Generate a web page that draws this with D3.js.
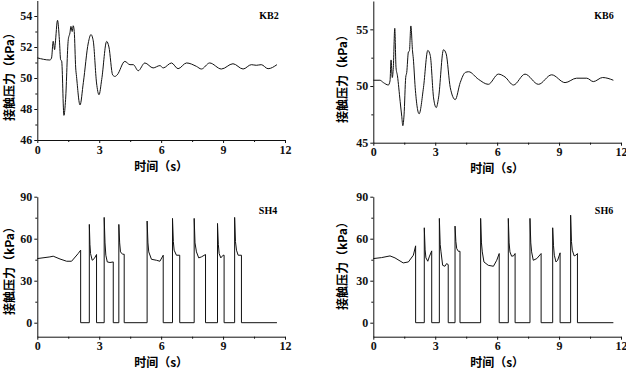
<!DOCTYPE html>
<html>
<head>
<meta charset="utf-8">
<script src="https://cdn.jsdelivr.net/npm/d3@7"></script>
<style>
  body { margin: 0; background: #fff; }
  svg { display: block; }
</style>
</head>
<body>
<div id="chart"></div>
<script>
// Chart data (time in s, contact pressure in kPa)
const kb2Time = [0, 0.61, 0.69, 0.77, 0.84, 0.87, 0.98, 1.07, 1.13, 1.18, 1.29, 1.37, 1.50, 1.58, 1.63, 1.69, 1.74, 1.79, 1.86, 1.90, 2.07, 2.23, 2.47, 2.60, 2.71, 2.87, 2.99, 3.12, 3.36, 3.47, 3.65, 3.76, 3.87, 4.24, 4.49, 4.65, 4.89, 5.21, 5.61, 5.94, 6.10, 6.50, 6.82, 7.23, 7.71, 7.95, 8.35, 8.92, 9.48, 9.97, 10.37, 10.61, 10.85, 11.18, 11.61];
const kb2Pressure = [51.3, 51.16, 51.29, 52.37, 51.83, 52.2, 53.72, 52.47, 51.18, 51.1, 47.59, 48.6, 52.47, 52.9, 53.33, 53.0, 53.37, 53.0, 50.65, 50.1, 48.26, 49.7, 52.26, 52.8, 52.4, 49.68, 48.92, 49.9, 52.36, 52.0, 50.2, 50.1, 50.2, 51.07, 50.86, 50.86, 50.47, 50.97, 50.65, 50.8, 50.65, 50.97, 50.6, 50.97, 50.75, 50.58, 50.97, 50.58, 50.92, 50.58, 50.86, 50.82, 50.86, 50.6, 50.86];

const kb6Time = [0, 0.32, 0.49, 0.73, 0.81, 0.86, 0.92, 0.97, 1.04, 1.10, 1.17, 1.30, 1.38, 1.43, 1.49, 1.57, 1.62, 1.70, 1.75, 1.82, 1.90, 1.94, 2.03, 2.22, 2.43, 2.64, 2.76, 2.92, 3.05, 3.16, 3.40, 3.53, 3.73, 3.97, 4.21, 4.46, 4.62, 5.09, 5.57, 6.06, 6.38, 6.79, 7.35, 8.0, 8.64, 9.29, 9.85, 10.34, 10.66, 11.11, 11.63];
const kb6Pressure = [50.51, 50.51, 50.3, 50.09, 50.45, 52.3, 50.75, 51.65, 55.09, 51.65, 50.9, 48.65, 47.3, 46.5, 47.45, 50.75, 51.2, 53.0, 53.1, 55.3, 53.1, 52.4, 49.85, 47.55, 49.85, 53.14, 52.7, 48.95, 48.1, 48.95, 53.2, 52.84, 49.85, 48.8, 50.3, 51.2, 51.26, 50.6, 50.15, 51.05, 50.8, 50.09, 51.05, 50.15, 50.99, 50.3, 50.69, 50.69, 50.39, 50.75, 50.51];

const sh4Time = [0, 0.61, 0.77, 1.1, 1.42, 1.66, 1.98, 2.10, 2.10, 2.52, 2.52, 2.55, 2.58, 2.66, 2.76, 2.87, 2.87, 3.24, 3.24, 3.28, 3.32, 3.39, 3.52, 3.68, 3.68, 3.95, 3.95, 3.99, 4.03, 4.13, 4.21, 4.21, 5.32, 5.32, 5.36, 5.40, 5.53, 5.77, 5.94, 6.10, 6.10, 6.55, 6.55, 6.59, 6.63, 6.74, 6.90, 6.90, 7.60, 7.60, 7.64, 7.71, 7.82, 7.95, 8.15, 8.15, 8.73, 8.73, 8.77, 8.81, 8.89, 9.00, 9.05, 9.05, 9.56, 9.56, 9.60, 9.65, 9.73, 9.89, 9.89, 11.61];
const sh4Pressure = [45.8, 47.0, 47.5, 45.5, 43.9, 43.9, 49.4, 51.8, 0, 0, 70.2, 56, 49.4, 44.6, 45.8, 48.7, 0, 0, 75.2, 57, 48.2, 43.4, 43.0, 43.4, 0, 0, 70.2, 57, 50.6, 48.9, 48.9, 0, 0, 72.6, 57, 50.6, 45.3, 44.6, 43.9, 48.2, 0, 0, 74.5, 58, 51.8, 48.2, 48.2, 0, 0, 74.5, 57, 50.6, 46.3, 47.0, 48.7, 0, 0, 70.9, 56, 49.4, 46.3, 48.2, 48.2, 0, 0, 75.2, 58, 51.8, 48.2, 48.2, 0, 0];

const sh6Time = [0, 0.4, 0.81, 1.05, 1.45, 1.70, 1.94, 2.05, 2.05, 2.47, 2.47, 2.51, 2.55, 2.64, 2.71, 2.83, 2.83, 3.20, 3.20, 3.24, 3.28, 3.36, 3.47, 3.55, 3.63, 3.63, 3.96, 3.96, 4.00, 4.04, 4.12, 4.20, 4.20, 5.20, 5.20, 5.24, 5.28, 5.36, 5.57, 5.82, 5.98, 6.10, 6.10, 6.54, 6.54, 6.58, 6.62, 6.70, 6.79, 6.87, 6.87, 7.59, 7.59, 7.63, 7.67, 7.75, 7.92, 8.13, 8.13, 8.69, 8.69, 8.73, 8.77, 8.85, 8.93, 9.05, 9.05, 9.56, 9.56, 9.60, 9.64, 9.73, 9.81, 9.89, 9.89, 11.63];
const sh6Pressure = [45.8, 46.5, 47.7, 46.3, 42.7, 43.4, 48.2, 54.9, 0, 0, 67.8, 52, 46.3, 43.9, 47, 51.3, 0, 0, 74.5, 56, 50.6, 41, 40.3, 42.2, 41.5, 0, 0, 69, 58, 53, 51, 51, 0, 0, 74.5, 57, 50.6, 43.4, 41, 40.3, 44.6, 49.4, 0, 0, 74.5, 57, 50.6, 47.5, 47.7, 49.4, 0, 0, 74.5, 57, 50.6, 44.6, 45.8, 49.4, 0, 0, 67.8, 55, 48.2, 43.4, 44.6, 49.9, 0, 0, 76.8, 58, 51.8, 47.7, 48.2, 49.4, 0, 0];

// Tick values
const xTicks = [0, 3, 6, 9, 12];
const xMinor = [1.5, 4.5, 7.5, 10.5];
const kbTicksA = [46, 48, 50, 52, 54];
const kbMinorA = [47, 49, 51, 53];
const kbTicksB = [45, 50, 55];
const kbMinorB = [47.5, 52.5];
const shTicks = [0, 30, 60, 90];
const shMinor = [15, 45, 75];

const xLabel = '时间（s）';
const yLabel = '接触压力（kPa）';

const w = 626;
const h = 370;

const svg = d3.select('#chart')
            .append('svg')
            .attr('width', w)
            .attr('height', h);

const tickFont = '"Liberation Serif", "DejaVu Serif", serif';
const cjkFont = '"Noto Sans CJK SC", sans-serif';

function drawPanel(p) {
    const xScale = d3.scaleLinear()
                    .domain([0, 12])
                    .range([p.left, p.right]);

    const yScale = d3.scaleLinear()
                    .domain(p.yDomain)
                    .range([p.bottom, p.top]);

    const data = p.time.map((t, i) => [t, p.values[i]]);

    // Trace
    svg.append('path')
       .datum(data)
       .attr('fill', 'none')
       .attr('stroke', '#111')
       .attr('stroke-width', 1)
       .attr('d', d3.line()
                    .curve(p.curve)
                    .x((d) => xScale(d[0]))
                    .y((d) => yScale(d[1])));

    // x-axis, major then minor ticks
    const gx = svg.append('g')
       .attr('transform', 'translate(0,' + p.bottom + ')')
       .style('font-family', tickFont)
       .style('font-size', '12px')
       .style('font-weight', 'bold')
       .call(d3.axisBottom(xScale).tickValues(xTicks).tickSize(3).tickSizeOuter(0).tickPadding(2));
    svg.append('g')
       .attr('transform', 'translate(0,' + p.bottom + ')')
       .call(d3.axisBottom(xScale).tickValues(xMinor).tickSize(2).tickFormat(''))
       .select('.domain').remove();

    // y-axis, major then minor ticks
    svg.append('g')
       .attr('transform', 'translate(' + p.left + ',0)')
       .style('font-family', tickFont)
       .style('font-size', '12px')
       .style('font-weight', 'bold')
       .call(d3.axisLeft(yScale).tickValues(p.yTicks).tickSize(3).tickSizeOuter(0).tickPadding(2));
    svg.append('g')
       .attr('transform', 'translate(' + p.left + ',0)')
       .call(d3.axisLeft(yScale).tickValues(p.yMinor).tickSize(2).tickFormat(''))
       .select('.domain').remove();

    svg.selectAll('.domain').attr('stroke', '#111');
    svg.selectAll('.tick line').attr('stroke', '#111');
    svg.selectAll('.tick text').attr('fill', '#111');

    // Axis labels
    svg.append('text')
       .attr('x', (p.left + p.right) / 2)
       .attr('y', p.bottom + 25)
       .attr('text-anchor', 'middle')
       .attr('dominant-baseline', 'central')
       .style('font-family', cjkFont)
       .style('font-size', '12px')
       .style('font-weight', 'bold')
       .text(xLabel);

    svg.append('text')
       .attr('text-anchor', 'middle')
       .attr('dominant-baseline', 'central')
       .attr('transform', 'translate(' + (p.left - p.labelGap) + ',' + p.labelY + ')rotate(-90)')
       .style('font-family', cjkFont)
       .style('font-size', '12px')
       .style('font-weight', 'bold')
       .text(yLabel);

    // Sample name
    svg.append('text')
       .attr('x', p.nameX)
       .attr('y', p.nameY)
       .attr('text-anchor', 'middle')
       .attr('dominant-baseline', 'central')
       .style('font-family', tickFont)
       .style('font-size', '10px')
       .style('font-weight', 'bold')
       .text(p.name);
}

drawPanel({name: 'KB2', time: kb2Time, values: kb2Pressure, curve: d3.curveMonotoneX,
           left: 37.3, right: 285, top: 0.5, bottom: 140, yDomain: [46, 55],
           yTicks: kbTicksA, yMinor: kbMinorA, labelGap: 28.5, labelY: 74, nameX: 269, nameY: 15});
drawPanel({name: 'KB6', time: kb6Time, values: kb6Pressure, curve: d3.curveMonotoneX,
           left: 373.3, right: 621, top: 1, bottom: 142.7, yDomain: [45, 57.5],
           yTicks: kbTicksB, yMinor: kbMinorB, labelGap: 31.5, labelY: 76, nameX: 604, nameY: 15});
drawPanel({name: 'SH4', time: sh4Time, values: sh4Pressure, curve: d3.curveLinear,
           left: 37.3, right: 285, top: 196.7, bottom: 336.7, yDomain: [-10, 90],
           yTicks: shTicks, yMinor: shMinor, labelGap: 28.5, labelY: 268, nameX: 268, nameY: 210});
drawPanel({name: 'SH6', time: sh6Time, values: sh6Pressure, curve: d3.curveLinear,
           left: 373.3, right: 621, top: 196.7, bottom: 336.7, yDomain: [-10, 90],
           yTicks: shTicks, yMinor: shMinor, labelGap: 31.5, labelY: 263, nameX: 604, nameY: 210});
</script>
</body>
</html>
